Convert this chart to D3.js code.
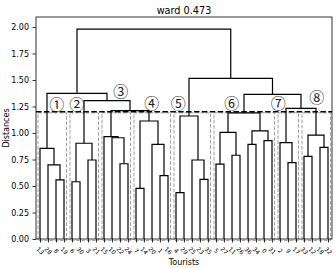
<!DOCTYPE html>
<html><head><meta charset="utf-8">
<script src="https://cdn.jsdelivr.net/npm/d3@7"></script>
<style>body{margin:0;background:#fff}svg{display:block}</style>
</head><body><svg id="c" width="336" height="268"></svg>
<script>
// ---- data ----
const leafLabels = ["13","28","8","19","6","30","3","21","15","10","22","24","7","14","20","1","16",
  "4","29","25","23","35","5","27","11","26","36","34","0","31","2","9","17","33","12","18","32"];
// linkage: node ids 0..36 are leaves (in display order), merges get ids 37, 38, ...
const mergeLeft  = [2, 1, 0, 4, 6, 40, 10, 9, 8, 12, 15, 14, 46, 45, 42, 39, 17, 20, 19, 53, 22, 24, 57, 26, 28, 60, 59, 31, 30, 33, 35, 66, 65, 63, 56, 52];
const mergeRight = [3, 37, 38, 5, 7, 41, 11, 43, 44, 13, 16, 47, 48, 49, 50, 51, 18, 21, 54, 55, 23, 25, 58, 27, 29, 61, 62, 32, 64, 34, 36, 67, 68, 69, 70, 71];
const mergeHeight = [0.557, 0.70, 0.855, 0.54, 0.745, 0.903, 0.71, 0.955, 0.965, 0.478, 0.597, 0.893, 1.113, 1.21, 1.305, 1.374,
  0.437, 0.563, 0.745, 1.16, 0.707, 0.79, 1.006, 0.893, 0.928, 1.02, 1.19, 0.72, 0.909, 0.78, 0.865, 0.98, 1.233, 1.365, 1.516, 1.98];
const clusterFirst = [0, 4, 8, 12, 17, 22, 30, 33];
const clusterLast  = [3, 7, 11, 16, 21, 29, 32, 36];
const clusterMarks = ["①","②","③","④","⑤","⑥","⑦","⑧"];
const markX = [25.9, 50.9, 105.9, 144.6, 177.9, 244.6, 302.9, 350.9];
const markY = [1.28, 1.28, 1.40, 1.286, 1.286, 1.286, 1.286, 1.342];
const threshold = 1.2;
const yTicks = [0, 0.25, 0.5, 0.75, 1.0, 1.25, 1.5, 1.75, 2.0];
const title = "ward 0.473";

// ---- layout ----
const svg = d3.select("#c");
const L = 36, R = 332, T = 17, B = 239;
const n = leafLabels.length;
const x = d3.scaleLinear().domain([0, 10 * n]).range([L, R]);
const y = d3.scaleLinear().domain([0, 2.094]).range([B, T]);
const font = "DejaVu Sans, sans-serif";

// node positions
const nodeX = leafLabels.map((_, i) => 5 + 10 * i);
const nodeH = leafLabels.map(() => 0);
mergeLeft.forEach((a, k) => {
  const b = mergeRight[k];
  nodeX.push((nodeX[a] + nodeX[b]) / 2);
  nodeH.push(mergeHeight[k]);
});

// cluster dashed boxes
svg.append("g").selectAll("rect").data(clusterFirst).join("rect")
  .attr("x", (f) => x(nodeX[f] - 2.5))
  .attr("width", (f, i) => x(nodeX[clusterLast[i]] + 3.1) - x(nodeX[f] - 2.5))
  .attr("y", y(1.19))
  .attr("height", y(-0.015) - y(1.19))
  .attr("fill", "none").attr("stroke", "#a0a0a0").attr("stroke-width", 1)
  .attr("stroke-dasharray", "3.7,1.6");

// links
const line = d3.line();
svg.append("g").selectAll("path").data(mergeLeft).join("path")
  .attr("d", (a, k) => {
    const b = mergeRight[k], h = mergeHeight[k];
    return line([[x(nodeX[a]), y(nodeH[a])], [x(nodeX[a]), y(h)], [x(nodeX[b]), y(h)], [x(nodeX[b]), y(nodeH[b])]]);
  })
  .attr("fill", "none").attr("stroke", "#000").attr("stroke-width", 1.2);

// threshold line
svg.append("line").attr("x1", L).attr("x2", R).attr("y1", y(threshold)).attr("y2", y(threshold))
  .attr("stroke", "#000").attr("stroke-width", 1.5).attr("stroke-dasharray", "5.5,2.4");

// frame
svg.append("rect").attr("x", L).attr("y", T).attr("width", R - L).attr("height", B - T)
  .attr("fill", "none").attr("stroke", "#000").attr("stroke-width", 0.8);

// y axis
const yAxis = svg.append("g").attr("transform", `translate(${L},0)`)
  .call(d3.axisLeft(y).tickValues(yTicks).tickFormat(d3.format(".2f")).tickSize(3.5).tickPadding(3.5));
yAxis.select(".domain").remove();
yAxis.selectAll("text").attr("font-family", font).attr("font-size", 8).attr("fill", "#000");
yAxis.selectAll("line").attr("stroke-width", 0.8);

// x axis (leaves)
const xAxis = svg.append("g").attr("transform", `translate(0,${B})`)
  .call(d3.axisBottom(x).tickValues(nodeX.slice(0, n)).tickFormat((d, i) => leafLabels[i]).tickSize(3.5).tickPadding(0));
xAxis.select(".domain").remove();
xAxis.selectAll("line").attr("stroke-width", 0.8);
xAxis.selectAll("text")
  .attr("font-family", font).attr("font-size", 6).attr("fill", "#000")
  .attr("text-anchor", "middle").attr("dy", null).attr("y", 0)
  .attr("dominant-baseline", "central")
  .attr("transform", "translate(0,11.5) rotate(45)");

// cluster marks
svg.append("g").selectAll("text").data(clusterMarks).join("text")
  .attr("x", (d, i) => x(markX[i])).attr("y", (d, i) => y(markY[i]))
  .attr("text-anchor", "middle").attr("dominant-baseline", "central")
  .attr("font-family", "Noto Sans CJK JP, sans-serif").attr("font-size", 15).attr("fill", "#222")
  .text((d) => d);

// title and axis labels
svg.append("text").attr("x", (L + R) / 2).attr("y", 14).attr("text-anchor", "middle")
  .attr("font-family", font).attr("font-size", 9.7).text(title);
svg.append("text").attr("transform", `translate(9,${(T + B) / 2}) rotate(-90)`).attr("text-anchor", "middle")
  .attr("font-family", font).attr("font-size", 8).text("Distances");
svg.append("text").attr("x", (L + R) / 2).attr("y", 265).attr("text-anchor", "middle")
  .attr("font-family", font).attr("font-size", 8).text("Tourists");
</script></body></html>
